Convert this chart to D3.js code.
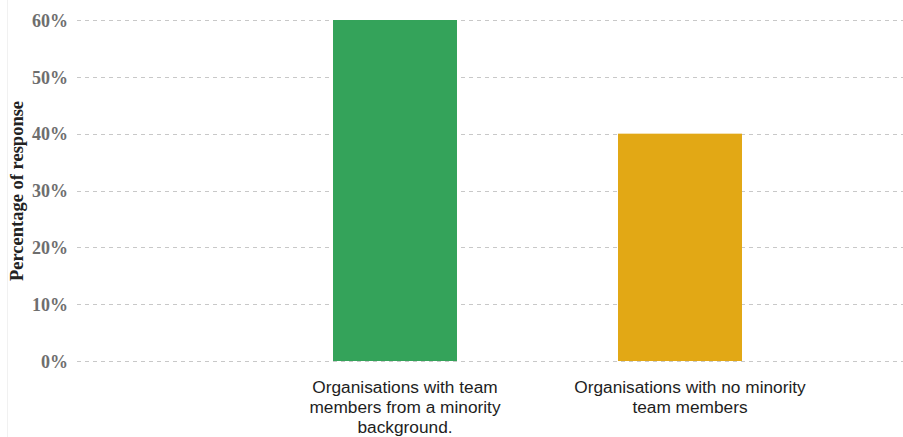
<!DOCTYPE html>
<html>
<head>
<meta charset="utf-8">
<script src="https://cdn.jsdelivr.net/npm/d3@7"></script>
<style>
  html, body { margin: 0; padding: 0; background: #fff; }
  svg { display: block; }
</style>
</head>
<body>
<svg id="chart" width="903" height="437"></svg>
<script>
// Share of responding organisations by team composition
const categories = [
  ["Organisations with team", "members from a minority", "background."],
  ["Organisations with no minority", "team members"]
];
const values = [0.60, 0.40];
const colors = ["#34a35a", "#e2a815"];
const yTicks = [0, 0.1, 0.2, 0.3, 0.4, 0.5, 0.6];

const svg = d3.select("#chart");
const W = 903, H = 437;

const y = d3.scaleLinear().domain([0, 0.6]).range([361, 20]);
const x = d3.scaleBand()
  .domain(d3.range(values.length))
  .range([252.5, 822.5])
  .paddingInner(0.565)
  .paddingOuter(0.2825);

// Faint frame edge on the left
svg.append("line")
  .attr("x1", 7.5).attr("x2", 7.5)
  .attr("y1", 0).attr("y2", H)
  .attr("stroke", "#f1f1f1");

// Horizontal dashed gridlines
svg.append("g")
  .selectAll("line")
  .data(yTicks)
  .join("line")
  .attr("x1", 77).attr("x2", W)
  .attr("y1", d => Math.round(y(d)) + 0.5)
  .attr("y2", d => Math.round(y(d)) + 0.5)
  .attr("stroke", "#c8c8c8")
  .attr("stroke-width", 1.2)
  .attr("stroke-dasharray", "4,4");

// Y axis tick labels
const yAxis = d3.axisLeft(y)
  .tickValues(yTicks)
  .tickFormat(d3.format(".0%"))
  .tickSize(0)
  .tickPadding(0);
const gy = svg.append("g").attr("transform", "translate(68,0)").call(yAxis);
gy.select(".domain").remove();
gy.selectAll("text")
  .attr("font-family", "'Liberation Serif', 'Times New Roman', serif")
  .attr("font-weight", "bold")
  .attr("font-size", 18)
  .attr("fill", "#6e6e6e")
  .attr("dy", "0.35em");

// Bars
svg.append("g")
  .selectAll("rect")
  .data(values)
  .join("rect")
  .attr("x", (d, i) => x(i))
  .attr("width", x.bandwidth())
  .attr("y", d => y(d))
  .attr("height", d => y(0) - y(d))
  .attr("fill", (d, i) => colors[i]);

// Category labels (set slightly right of the bar centres)
const labelShift = 10;
const lab = svg.append("g")
  .selectAll("text")
  .data(categories)
  .join("text")
  .attr("x", (d, i) => x(i) + x.bandwidth() / 2 + labelShift)
  .attr("y", 393)
  .attr("text-anchor", "middle")
  .attr("font-family", "'Liberation Sans', Arial, sans-serif")
  .attr("font-size", 17.3)
  .attr("fill", "#1e1e1e");
lab.selectAll("tspan")
  .data(d => d)
  .join("tspan")
  .attr("x", function () { return d3.select(this.parentNode).attr("x"); })
  .attr("dy", (d, i) => i === 0 ? 0 : 20)
  .text(d => d);

// Y axis title
svg.append("text")
  .attr("transform", "translate(23,191) rotate(-90)")
  .attr("text-anchor", "middle")
  .attr("font-family", "'Liberation Serif', 'Times New Roman', serif")
  .attr("font-weight", "bold")
  .attr("font-size", 18.5)
  .attr("fill", "#222")
  .text("Percentage of response");
</script>
</body>
</html>
